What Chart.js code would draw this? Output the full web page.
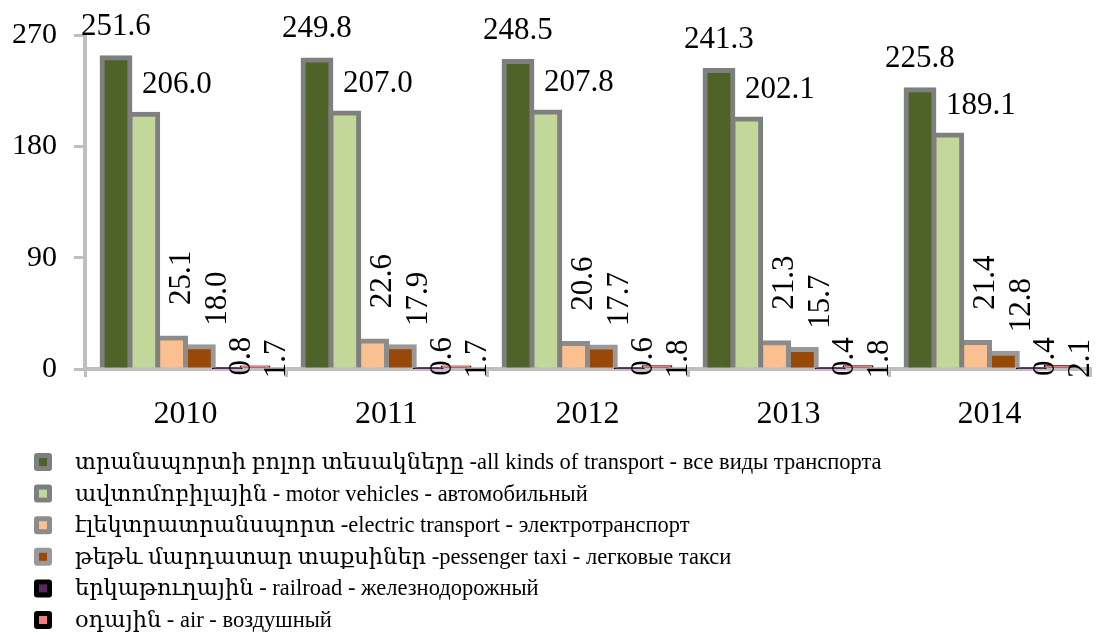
<!DOCTYPE html>
<html>
<head>
<meta charset="utf-8">
<script src="https://cdn.jsdelivr.net/npm/chart.js@4.4.1/dist/chart.umd.min.js"></script>
<style>
  html, body { margin:0; padding:0; background:#fff; }
  #wrap { width:1104px; height:635px; }
</style>
</head>
<body>
<div id="wrap"><canvas id="chart" width="1104" height="635"></canvas></div>
<script>
  // data
  const years = ['2010', '2011', '2012', '2013', '2014'];
  const seriesNames = [
    'տրանսպորտի բոլոր տեսակները -all kinds of transport - все виды транспорта',
    'ավտոմոբիլային - motor vehicles - автомобильный',
    'էլեկտրատրանսպորտ -electric transport - электротранспорт',
    'թեթև մարդատար տաքսիներ -pessenger taxi - легковые такси',
    'երկաթուղային - railroad - железнодорожный',
    'օդային - air - воздушный'
  ];
  const allTransport      = [251.6, 249.8, 248.5, 241.3, 225.8];
  const motorVehicles     = [206.0, 207.0, 207.8, 202.1, 189.1];
  const electricTransport = [25.1, 22.6, 20.6, 21.3, 21.4];
  const passengerTaxi     = [18.0, 17.9, 17.7, 15.7, 12.8];
  const railroad          = [0.8, 0.6, 0.6, 0.4, 0.4];
  const air               = [1.7, 1.7, 1.8, 1.8, 2.1];
  const yTicks = [0, 90, 180, 270];

  const fills   = ['#4f6228', '#c4d79b', '#fac090', '#984807', '#5f2462', '#f07c7c'];
  const borders = ['#7f7f7f', '#7f7f7f', '#8c8c8c', '#999999', '#000000', '#000000'];
  const values  = [allTransport, motorVehicles, electricTransport, passengerTaxi, railroad, air];

  const SERIF = '"Liberation Serif", "DejaVu Serif", "Times New Roman", serif';

  // where each series puts its value label, relative to the top of its bar
  const labelPos = [
    { dx: 0,  dy: -31, rot: false },
    { dx: 33, dy: -29, rot: false },
    { dx: 10, dy: -60, rot: true },
    { dx: 18, dy: -48, rot: true },
    { dx: 15, dy: -12, rot: true },
    { dx: 22, dy: -8,  rot: true }
  ];

  const valueLabels = {
    id: 'valueLabels',
    afterDatasetsDraw(chart){
      const ctx = chart.ctx;
      ctx.save();
      ctx.fillStyle = '#000';
      ctx.font = '31px ' + SERIF;
      ctx.textAlign = 'center';
      ctx.textBaseline = 'middle';
      chart.data.datasets.forEach((ds, i) => {
        const meta = chart.getDatasetMeta(i);
        const p = labelPos[i];
        meta.data.forEach((bar, j) => {
          const txt = Number(ds.data[j]).toFixed(1);
          if(!p.rot){
            ctx.fillText(txt, bar.x + p.dx, bar.y + p.dy);
          } else {
            ctx.save();
            ctx.translate(bar.x + p.dx, bar.y + p.dy);
            ctx.rotate(-Math.PI / 2);
            ctx.fillText(txt, 0, 0);
            ctx.restore();
          }
        });
      });
      ctx.restore();
    }
  };

  function roundRect(ctx, x, y, w, h, r){
    ctx.beginPath();
    ctx.moveTo(x + r, y);
    ctx.arcTo(x + w, y, x + w, y + h, r);
    ctx.arcTo(x + w, y + h, x, y + h, r);
    ctx.arcTo(x, y + h, x, y, r);
    ctx.arcTo(x, y, x + w, y, r);
    ctx.closePath();
  }

  const listLegend = {
    id: 'listLegend',
    afterDraw(chart){
      const ctx = chart.ctx;
      ctx.save();
      ctx.font = '22.5px ' + SERIF;
      ctx.textBaseline = 'middle';
      ctx.textAlign = 'left';
      chart.data.datasets.forEach((ds, i) => {
        const y = 462 + i * 31.6;
        ctx.fillStyle = ds.borderColor;
        roundRect(ctx, 34, y - 9, 18, 18, 3);
        ctx.fill();
        ctx.fillStyle = ds.backgroundColor;
        ctx.fillRect(39, y - 4, 8, 8);
        ctx.fillStyle = '#000';
        ctx.fillText(ds.label, 75, y + 1);
      });
      ctx.restore();
    }
  };

  // border centred on the bar edge, like the original: inner border + inflate
  const datasets = values.map((v, i) => ({
    label: seriesNames[i],
    data: v,
    backgroundColor: fills[i],
    borderColor: borders[i],
    borderWidth: i < 4 ? 5 : 1.5,
    inflateAmount: i < 4 ? 2.5 : 1.5,
    borderSkipped: 'start',
    barPercentage: 1,
    categoryPercentage: 0.83
  }));

  new Chart(document.getElementById('chart'), {
    type: 'bar',
    data: { labels: years, datasets },
    options: {
      responsive: false,
      devicePixelRatio: 1,
      animation: false,
      layout: { padding: { top: 32, left: 0, right: 14, bottom: 206 } },
      plugins: { legend: { display: false }, tooltip: { enabled: false }, title: { display: false } },
      scales: {
        x: {
          afterFit(scale){ scale.height = 60; },
          grid: { offset: true, drawOnChartArea: false, tickLength: 8, color: '#bfbfbf', lineWidth: 3 },
          border: { color: '#bfbfbf', width: 4 },
          ticks: { color: '#000', font: { family: SERIF, size: 32 }, padding: 18 }
        },
        y: {
          min: 0, max: 270,
          afterFit(scale){ scale.width = 85; },
          afterBuildTicks(scale){ scale.ticks = yTicks.map(v => ({ value: v })); },
          grid: { drawOnChartArea: false, tickLength: 11, color: '#bfbfbf', lineWidth: 3 },
          border: { color: '#bfbfbf', width: 4 },
          ticks: { color: '#000', font: { family: SERIF, size: 30 }, padding: 17 }
        }
      }
    },
    plugins: [valueLabels, listLegend]
  });
</script>
</body>
</html>
